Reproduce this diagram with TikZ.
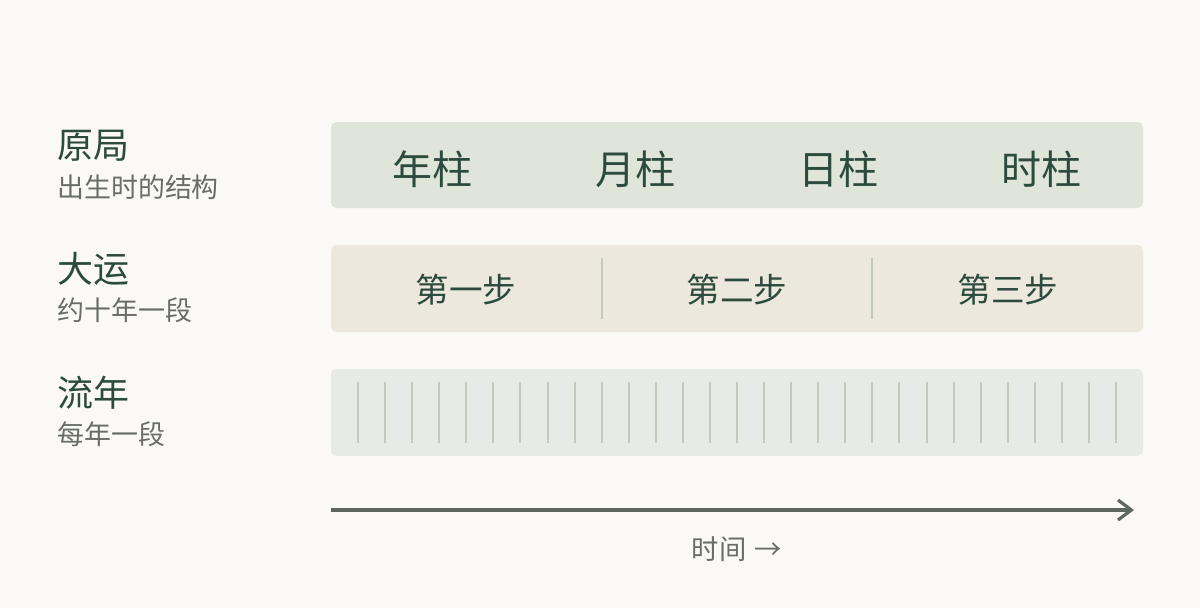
\documentclass[tikz,border=0pt]{standalone}
\usepackage{fontspec}
\usepackage{xcolor}
\usepackage{tikz}
\usetikzlibrary{positioning,arrows.meta}
\newfontfamily\cjk{Noto Sans CJK SC}
\definecolor{paper}{HTML}{FAF9F5}
\definecolor{sage}{HTML}{DFE5D8}
\definecolor{sand}{HTML}{ECE8DD}
\definecolor{mist}{HTML}{E8EAE6}
\definecolor{ink}{HTML}{2C4A3D}
\definecolor{slate}{HTML}{686D67}
\definecolor{tick}{HTML}{C3CABC}
\definecolor{axis}{HTML}{5E665F}

\begin{document}
\begin{tikzpicture}[x=0.75pt,y=-0.75pt,font=\cjk]
  \tikzstyle{band}=[draw=none,rounded corners=4]
  \tikzstyle{title}=[anchor=west,inner sep=0pt,text=ink,font=\cjk\fontsize{27}{30}\selectfont]
  \tikzstyle{sub}=[anchor=west,inner sep=0pt,text=slate,font=\cjk\fontsize{20.2}{23}\selectfont]
  \tikzstyle{pillar}=[inner sep=0pt,text=ink,font=\cjk\fontsize{30}{33}\selectfont]
  \tikzstyle{stage}=[inner sep=0pt,text=ink,font=\cjk\fontsize{25.2}{28}\selectfont]
  \tikzstyle{arrow}=[line width=2.4pt,-{Straight Barb[length=10pt,width=15pt,line width=2.4pt]},axis]

  % background
  \fill [paper] (0,0) rectangle (1200,608);
  \useasboundingbox (0,0) rectangle (1200,608);

  % labels on left
  \node [title] (yuanju) at (57,146) {原局};
  \node [sub] (yuanjusub) at (57,187) {出生时的结构};
  \node [title] (dayun) at (57,269) {大运};
  \node [sub] (dayunsub) at (57,310) {约十年一段};
  \node [title] (liunian) at (57,393) {流年};
  \node [sub] (liuniansub) at (57,434) {每年一段};

  % first row: the four pillars
  \fill [band,sage] (331,122) rectangle (1143,208);
  \node [pillar] (nianzhu) at (432.5,169) {年柱};
  \node [pillar] (yuezhu) at (635.5,169) {月柱};
  \node [pillar] (rizhu) at (838.5,169) {日柱};
  \node [pillar] (shizhu) at (1041.5,169) {时柱};

  % second row: the luck stages
  \fill [band,sand] (331,245) rectangle (1143,332);
  \node [stage] (step1) at (466,290) {第一步};
  \node [stage] (step2) at (737,290) {第二步};
  \node [stage] (step3) at (1008,290) {第三步};
  \draw [tick,line width=1.5pt] (601.7,258) -- (601.7,319);
  \draw [tick,line width=1.5pt] (872.3,258) -- (872.3,319);

  % third row: one tick per year
  \fill [band,mist] (331,369) rectangle (1143,456);
  \foreach \k in {1,...,29}
    \draw [tick,line width=1.5pt] (331+\k*27.07,382) -- (331+\k*27.07,443);

  % time axis
  \coordinate (tstart) at (331,510);
  \coordinate (tend) at (1134,510);
  \draw [arrow] (tstart) -- (tend);
  \node [inner sep=0pt,text=slate,font=\cjk\fontsize{20.5}{23}\selectfont] (time) at (737,549) {时间\hspace{0.3em}→};

\end{tikzpicture}
\end{document}
